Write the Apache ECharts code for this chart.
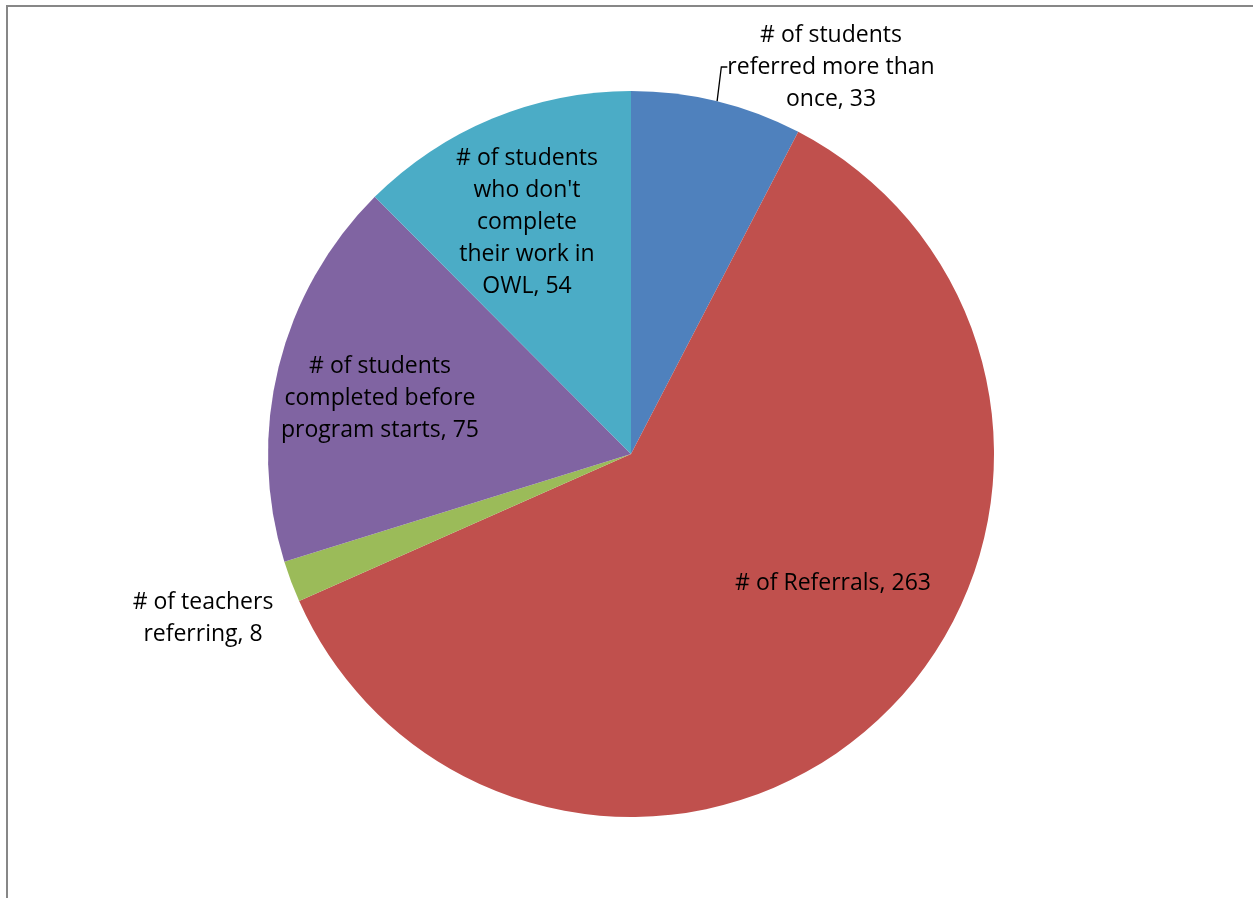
<!DOCTYPE html>
<html>
<head>
<meta charset="utf-8">
<script src="https://cdn.jsdelivr.net/npm/echarts@6/dist/echarts.min.js"></script>
<style>
html,body{margin:0;padding:0;background:#fff;}
#chart{width:1253px;height:898px;}
</style>
</head>
<body>
<div id="chart"></div>
<script>
const categories = [
  '# of students\nreferred more than\nonce',
  '# of Referrals',
  '# of teachers\nreferring',
  '# of students\ncompleted before\nprogram starts',
  '# of students\nwho don\'t\ncomplete\ntheir work in\nOWL'
];
const values = [33, 263, 8, 75, 54];
const colors = ['#4F81BD', '#C0504D', '#9BBB59', '#8064A2', '#4BACC6'];
// label centres (pixels)
const labelCentres = [[831, 67], [833, 583], [203, 618], [380, 398], [527, 222]];

const chart = echarts.init(document.getElementById('chart'));
chart.setOption({
  animation: false,
  graphic: [{
    type: 'rect',
    shape: { x: 7, y: 6, width: 1270, height: 920 },
    style: { fill: 'none', stroke: '#878787', lineWidth: 2 },
    silent: true
  }],
  series: [{
    type: 'pie',
    center: [631, 454],
    radius: [0, 363],
    startAngle: 90,
    clockwise: true,
    avoidLabelOverlap: false,
    data: categories.map((c, i) => ({
      name: c,
      value: values[i],
      itemStyle: { color: colors[i] },
      labelLine: { show: i === 0 }
    })),
    itemStyle: { borderWidth: 0 },
    label: {
      show: true,
      position: 'outside',
      formatter: '{b}, {c}',
      fontFamily: 'Open Sans',
      fontSize: 23,
      lineHeight: 32,
      color: '#000',
      align: 'center'
    },
    labelLine: {
      show: true,
      length: 20,
      length2: 6,
      lineStyle: { color: '#000', width: 1.3 }
    },
    labelLayout: function (p) {
      const c = labelCentres[p.dataIndex];
      return { x: c[0], y: c[1], align: 'center', verticalAlign: 'middle' };
    }
  }]
});
</script>
</body>
</html>
